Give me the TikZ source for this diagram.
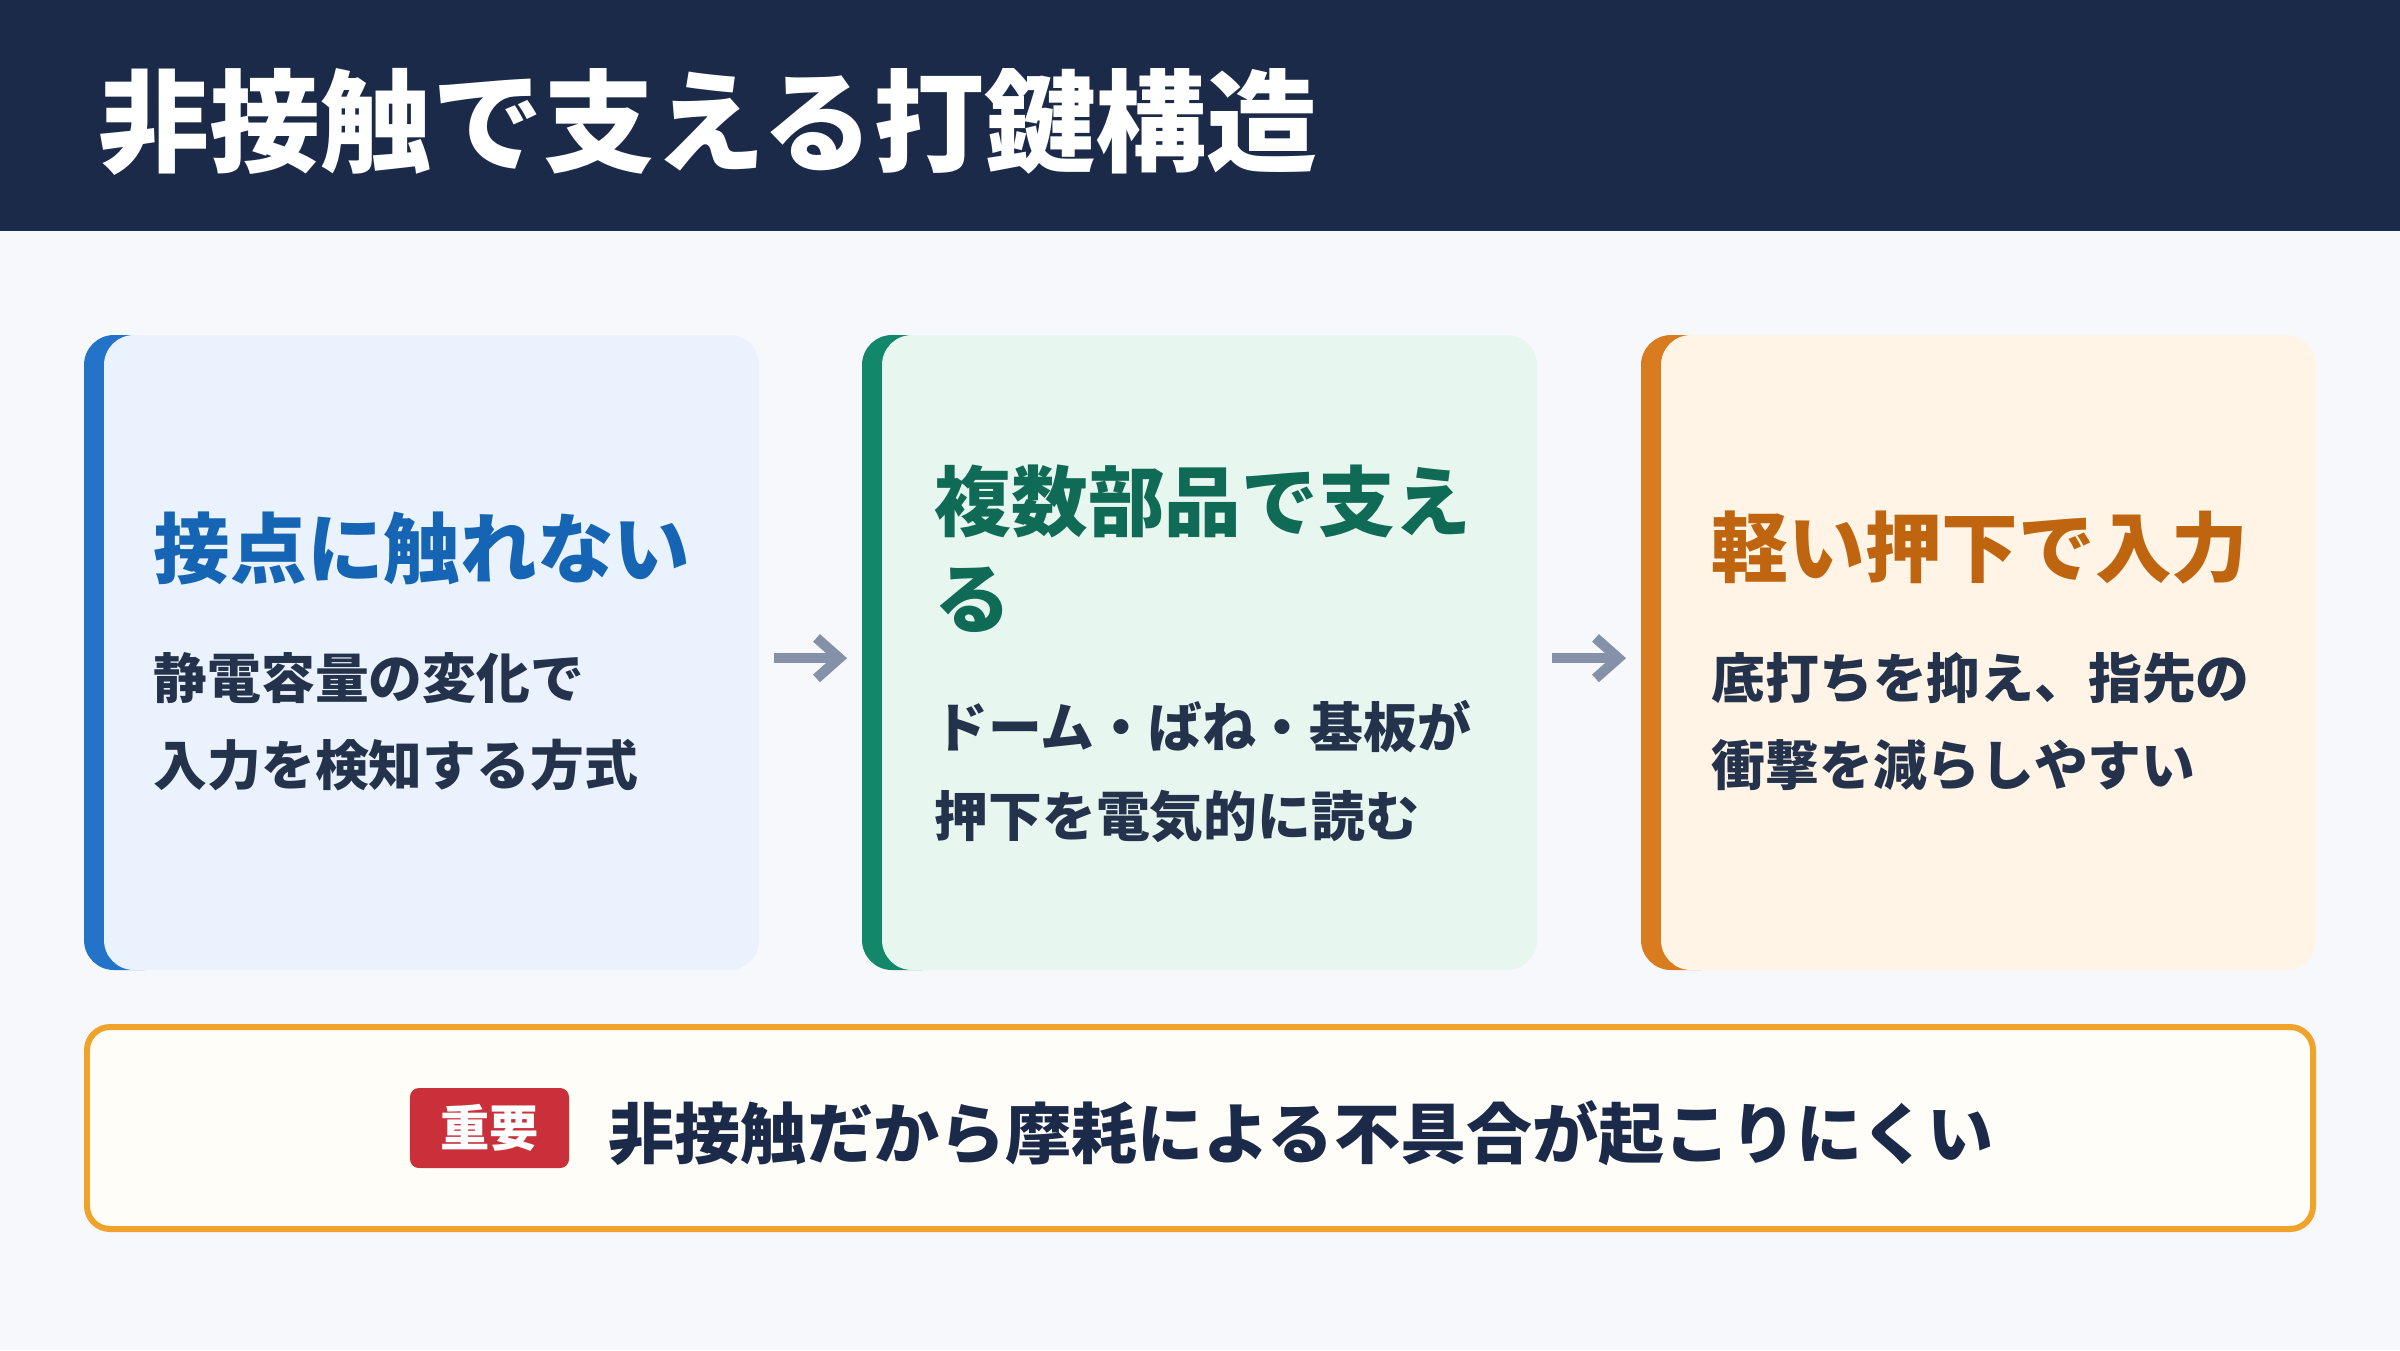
\documentclass[tikz,border=0pt]{standalone}
\usepackage{fontspec}
\setmainfont{Noto Sans CJK JP}
\usetikzlibrary{positioning,arrows.meta}
\definecolor{navy}{HTML}{1C2A4A}
\definecolor{pagebg}{HTML}{F6F8FC}
\definecolor{ink}{HTML}{24324B}
\definecolor{blueA}{HTML}{2373C8}
\definecolor{blueF}{HTML}{EAF2FE}
\definecolor{blueT}{HTML}{1565B4}
\definecolor{greenA}{HTML}{13876A}
\definecolor{greenF}{HTML}{E8F6F0}
\definecolor{greenT}{HTML}{0F6B55}
\definecolor{orgA}{HTML}{D97B1F}
\definecolor{orgF}{HTML}{FFF4E5}
\definecolor{orgT}{HTML}{C0650F}
\definecolor{gold}{HTML}{F0A22B}
\definecolor{noteF}{HTML}{FFFDF7}
\definecolor{badgeR}{HTML}{C9303A}
\definecolor{arrowG}{HTML}{8491A8}
\tikzset{
  slot/.style={minimum width=6.75cm, minimum height=6.35cm, inner sep=0},
  ctitle/.style={anchor=west, inner sep=0, align=left, font=\fontsize{21.8}{27.6}\selectfont\bfseries},
  cbody/.style={anchor=west, inner sep=0, align=left, text=ink, font=\fontsize{15.3}{24.8}\selectfont\bfseries},
  flow/.style={arrowG, line width=2.9pt, -{Straight Barb[length=6.5pt,width=11.5pt]}, shorten <=4pt, shorten >=4pt},
  badge/.style={fill=badgeR, text=white, rounded corners=0.9mm, minimum width=1.59cm, minimum height=0.8cm, inner sep=0, font=\fontsize{14}{16}\selectfont\bfseries}
}
\begin{document}
\begin{tikzpicture}[x=0.01cm, y=-0.01cm]
  \fill [pagebg] (0,0) rectangle (2400,1350);
  \fill [navy] (0,0) rectangle (2400,231);
  \node [anchor=west, inner sep=0, text=white, font=\fontsize{31.6}{36}\selectfont\bfseries] (head) at (98,122) {非接触で支える打鍵構造};

  \foreach \n/\x/\a/\f in {c1/84/blueA/blueF, c2/862/greenA/greenF, c3/1641/orgA/orgF} {
    \fill [\a, rounded corners=3mm] (\x,335) rectangle ++(90,635);
    \fill [\f, rounded corners=3mm] (\x+20,335) rectangle ++(655,635);
    \node [slot] (\n) at (\x+337.5,652.5) {};
  }

  \node [ctitle, text=blueT] (t1) at (153,548) {接点に触れない};
  \node [cbody] (b1) at (153,721.5) {静電容量の変化で\\入力を検知する方式};

  \node [ctitle, text=greenT] (t2) at (934,548.5) {複数部品で支え\\る};
  \node [cbody, font=\fontsize{15.3}{25.3}\selectfont\bfseries] (b2) at (934,771.5) {ドーム・ばね・基板が\\押下を電気的に読む};

  \node [ctitle, text=orgT] (t3) at (1711,548) {軽い押下で入力};
  \node [cbody] (b3) at (1711,721.5) {底打ちを抑え、指先の\\衝撃を減らしやすい};

  \draw [flow] ([yshift=-1.6pt]c1.east) -- ([yshift=-1.6pt]c2.west);
  \draw [flow] ([yshift=-1.6pt]c2.east) -- ([yshift=-1.6pt]c3.west);

  \draw [gold, line width=1.7pt, fill=noteF, rounded corners=2.3mm] (87,1027) rectangle (2313,1229);
  \node [badge] (tag) at (489.5,1128) {重要};
  \node [anchor=west, inner sep=0, text=navy, font=\fontsize{18.8}{22}\selectfont\bfseries] (msg) at (608,1133) {非接触だから摩耗による不具合が起こりにくい};
\end{tikzpicture}
\end{document}
